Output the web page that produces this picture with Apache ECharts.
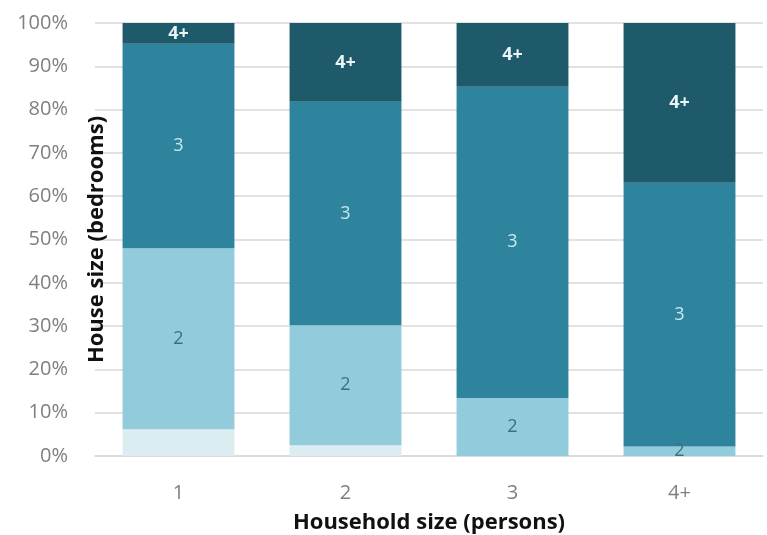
<!DOCTYPE html>
<html>
<head>
<meta charset="utf-8">
<script src="https://cdn.jsdelivr.net/npm/echarts@6/dist/echarts.min.js"></script>
<style>
  html, body { margin: 0; padding: 0; background: #fff; }
  #chart { width: 767px; height: 535px; }
</style>
</head>
<body>
<div id="chart"></div>
<script>
// household size on x, share of house sizes (bedrooms) stacked to 100%
var categories = ['1', '2', '3', '4+'];
var bed1 = [6.2, 2.5, 0, 0];
var bed2 = [41.8, 27.7, 13.4, 2.2];
var bed3 = [47.2, 51.6, 71.9, 60.9];
var bed4 = [4.8, 18.2, 14.7, 36.9];
var yTicks = [0, 10, 20, 30, 40, 50, 60, 70, 80, 90, 100];

var font = '"Open Sans", "Noto Sans", sans-serif';

function makeSeries(name, data, color, label) {
	return {
		name: name,
		type: 'bar',
		stack: 'total',
		barCategoryGap: '33%',
		data: data,
		itemStyle: { color: color },
		label: label,
		emphasis: { disabled: true }
	};
}

var chart = echarts.init(document.getElementById('chart'));
chart.setOption({
	animation: false,
	textStyle: { fontFamily: font },
	grid: { left: 95, right: 4, top: 23, bottom: 79, outerBoundsMode: 'none', containLabel: false },
	xAxis: {
		type: 'category',
		data: categories,
		axisLine: { lineStyle: { color: '#d9d9d9', width: 1.5 } },
		axisTick: { show: false },
		axisLabel: { color: '#7f7f7f', fontSize: 20, margin: 27, fontFamily: font },
		name: 'Household size (persons)',
		nameLocation: 'middle',
		nameGap: 56,
		nameMoveOverlap: false,
		nameTextStyle: { color: '#111', fontSize: 22, fontWeight: 'bold', fontFamily: font }
	},
	yAxis: {
		type: 'value',
		min: 0,
		max: 100,
		interval: 10,
		axisLine: { show: false },
		axisTick: { show: false },
		splitLine: { lineStyle: { color: '#d9d9d9', width: 1.5 } },
		axisLabel: {
			color: '#7f7f7f', fontSize: 20, margin: 27, fontFamily: font,
			formatter: function (v) { return yTicks.indexOf(v) >= 0 ? v + '%' : ''; }
		},
		name: 'House size (bedrooms)',
		nameLocation: 'middle',
		nameGap: -13,
		nameMoveOverlap: false,
		nameTextStyle: { color: '#111', fontSize: 22, fontWeight: 'bold', fontFamily: font }
	},
	series: [
		makeSeries('1', bed1, '#dcedf2', { show: false }),
		makeSeries('2', bed2, '#92cbdb', { show: true, formatter: '2', color: '#3d6f80', fontSize: 18, fontFamily: font }),
		makeSeries('3', bed3, '#2e849d', { show: true, formatter: '3', color: '#c9e8f1', fontSize: 18, fontFamily: font }),
		makeSeries('4+', bed4, '#1f5a6b', { show: true, formatter: '4+', color: '#eaf5f8', fontSize: 18, fontWeight: 'bold', fontFamily: font })
	]
});
</script>
</body>
</html>
